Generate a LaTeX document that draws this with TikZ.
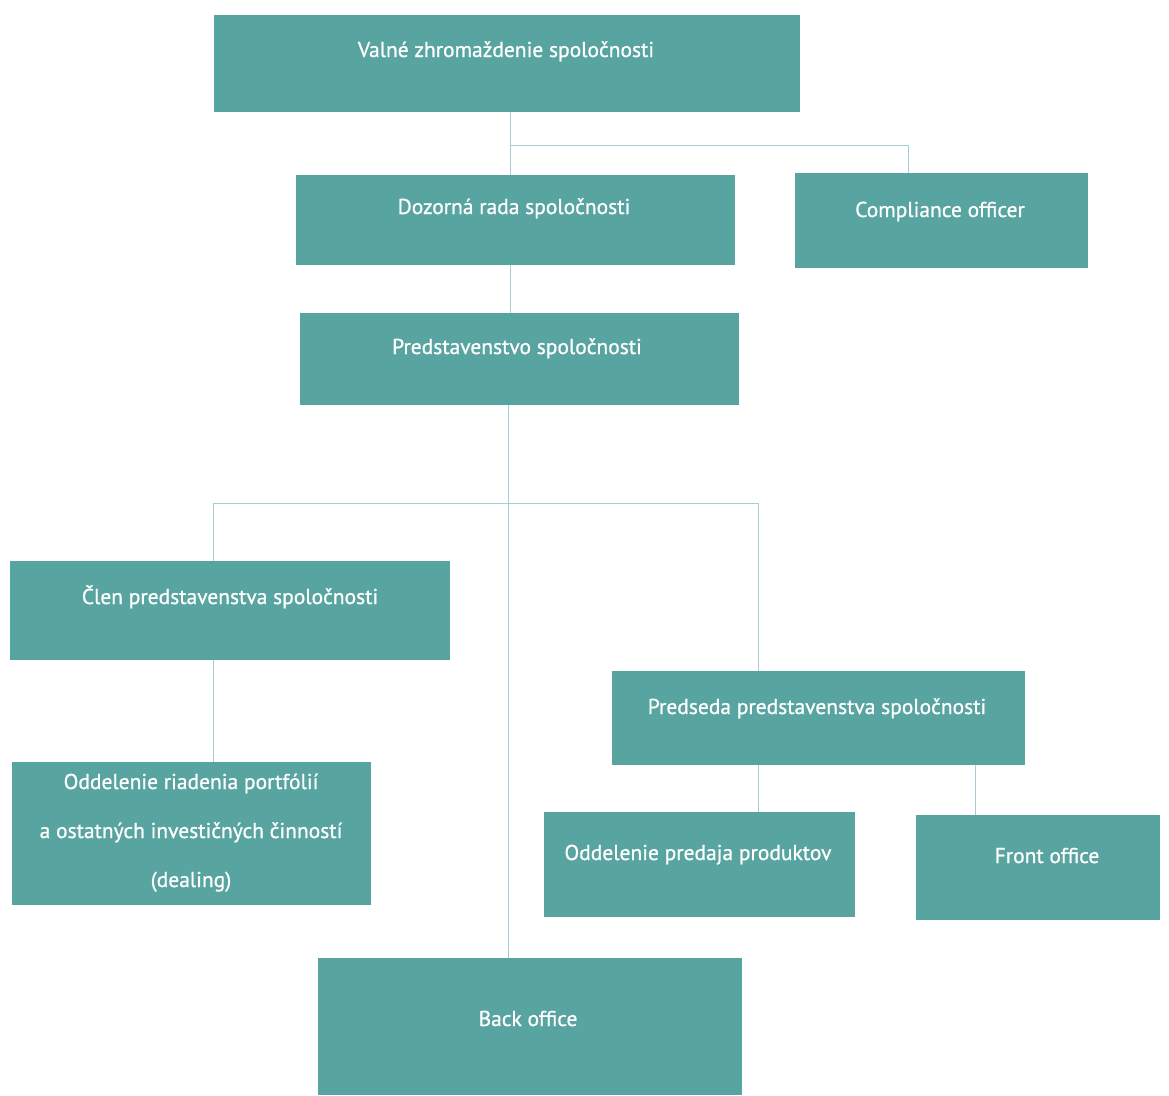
\documentclass[tikz,border=0pt]{standalone}
\usepackage{fontspec}
\setmainfont{PT Sans}
\newfontfamily\boxfont[FakeBold=0.8]{PT Sans}
\definecolor{boxteal}{RGB}{88,164,161}
\definecolor{linecol}{RGB}{165,206,212}
\begin{document}
\begin{tikzpicture}[x=1pt,y=-1pt,
  box/.style={fill=boxteal, draw=none, anchor=north west, inner sep=0pt},
  lbl/.style={text=white, font=\boxfont\fontsize{21.5}{24}\selectfont, inner sep=0pt, anchor=base},
  conn/.style={draw=linecol, line width=1pt}]
\useasboundingbox[fill=white] (0,0) rectangle (1169,1095);
% boxes
\node[box, minimum width=586pt, minimum height=97pt] (v) at (214,15) {};
\node[box, minimum width=439pt, minimum height=90pt] (d) at (296,175) {};
\node[box, minimum width=293pt, minimum height=95pt] (c) at (795,173) {};
\node[box, minimum width=439pt, minimum height=92pt] (p) at (300,313) {};
\node[box, minimum width=440pt, minimum height=99pt] (cl) at (10,561) {};
\node[box, minimum width=413pt, minimum height=94pt] (ps) at (612,671) {};
\node[box, minimum width=359pt, minimum height=143pt] (o) at (12,762) {};
\node[box, minimum width=311pt, minimum height=105pt] (op) at (544,812) {};
\node[box, minimum width=244pt, minimum height=105pt] (f) at (916,815) {};
\node[box, minimum width=424pt, minimum height=137pt] (b) at (318,958) {};
% labels
\node[lbl] (tv) at (506,57) {Valné zhromaždenie spoločnosti};
\node[lbl] (td) at (514,214) {Dozorná rada spoločnosti};
\node[lbl] (tc) at (940,217) {Compliance officer};
\node[lbl] (tp) at (517,354) {Predstavenstvo spoločnosti};
\node[lbl] (tcl) at (230,604) {Člen predstavenstva spoločnosti};
\node[lbl] (tps) at (817,714) {Predseda predstavenstva spoločnosti};
\node[lbl] (to1) at (191,789) {Oddelenie riadenia portfólií};
\node[lbl] (to2) at (191,838) {a ostatných investičných činností};
\node[lbl] (to3) at (191,887) {(dealing)};
\node[lbl] (top) at (698,860) {Oddelenie predaja produktov};
\node[lbl] (tf) at (1047,863) {Front office};
\node[lbl] (tb) at (528,1026) {Back office};
% junction coordinates
\coordinate (j1) at (510,145);
\coordinate (j2) at (908,145);
\coordinate (j3) at (508,503);
\coordinate (j4) at (213,503);
\coordinate (j5) at (758,503);
\coordinate (j6) at (975,765);
% connectors
\draw[conn] (v.south -| j1) -- (d.north -| j1);
\draw[conn] (j1) -- (j2) -- (c.north -| j2);
\draw[conn] (d.south -| j1) -- (p.north -| j1);
\draw[conn] (p.south -| j3) -- (b.north -| j3);
\draw[conn] (cl.north -| j4) -- (j4) -- (j5) -- (ps.north -| j5);
\draw[conn] (cl.south -| j4) -- (o.north -| j4);
\draw[conn] (ps.south -| j5) -- (op.north -| j5);
\draw[conn] (ps.south -| j6) -- (f.north -| j6);
\end{tikzpicture}
\end{document}
